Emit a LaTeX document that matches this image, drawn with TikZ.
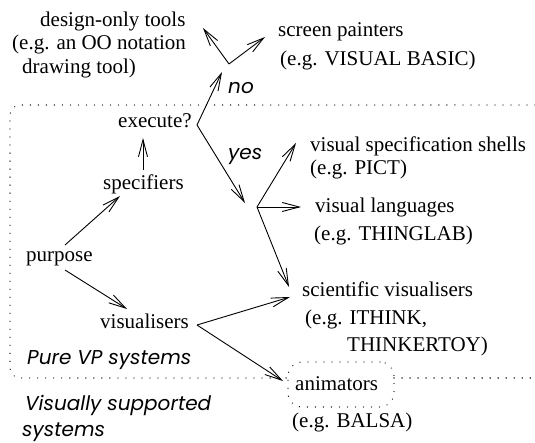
\documentclass[tikz,border=0pt]{standalone}
\usepackage{fontspec}
\setmainfont{Liberation Serif}
\newfontfamily\timesf{Liberation Serif}
\newfontfamily\gothic{Poppins}
\usetikzlibrary{arrows.meta}
\begin{document}
\begin{tikzpicture}[x=1pt,y=-1pt,
 lbl/.style={anchor=base west, inner sep=0pt, font=\timesf\fontsize{21}{25}\selectfont},
 ital/.style={anchor=base west, inner sep=0pt, font=\gothic\itshape\fontsize{20}{23}\selectfont},
 arr/.style={line width=0.9pt, -{Straight Barb[length=17pt,width=9pt]}},
 dotline/.style={line width=1.3pt, dash pattern=on 0.01pt off 8pt, line cap=round}]
\useasboundingbox (0,0) rectangle (535,443);
% text nodes
\node[lbl] (design) at (40,27) {design-only tools};
\node[lbl] (design2) at (12,50) {(e.g. an OO notation};
\node[lbl] (design3) at (22,74) {drawing tool)};
\node[lbl] (screen) at (278,37) {screen painters};
\node[lbl] (screen2) at (280,66) {(e.g. VISUAL BASIC)};
\node[lbl] (exec) at (118,128) {execute?};
\node[ital] (no) at (228,94) {no};
\node[ital] (yes) at (228,160) {yes};
\node[lbl] (spec) at (103,190) {specifiers};
\node[lbl] (purpose) at (26,262) {purpose};
\node[lbl] (vis) at (100,328) {visualisers};
\node[ital] (pure) at (27,364) {Pure VP systems};
\node[ital] (vsup) at (25,410) {Visually supported};
\node[ital] (vsup2) at (22,436) {systems};
\node[lbl] (vss) at (310,152) {visual specification shells};
\node[lbl] (pict) at (310,175) {(e.g. PICT)};
\node[lbl] (vl) at (315,213) {visual languages};
\node[lbl] (thing) at (314,241) {(e.g. THINGLAB)};
\node[lbl] (sci) at (302,297) {scientific visualisers};
\node[lbl] (ithink) at (305,325) {(e.g. ITHINK,};
\node[lbl] (tkt) at (347,352) {THINKERTOY)};
\node[lbl] (anim) at (295,390) {animators};
\node[lbl] (balsa) at (292,427) {(e.g. BALSA)};
\node[draw, dotline, rounded corners=14pt, minimum width=106, minimum height=45] (animbox) at (341,384.5) {};
% coordinates
\coordinate (ex) at (197,125);
\coordinate (noTip) at (222,72);
\coordinate (nb) at (229,64);
\coordinate (designTip) at (203,28);
\coordinate (screenTip) at (265,37);
\coordinate (yesTip) at (245,203);
\coordinate (yb) at (257,207);
\coordinate (vssTip) at (296,143);
\coordinate (vlTip) at (301,207);
\coordinate (sciTipA) at (289,287);
\coordinate (specBot) at (143,170);
\coordinate (specTop) at (143,138);
\coordinate (pUp) at (65,245);
\coordinate (specTip) at (120,196);
\coordinate (pDn) at (65,270);
\coordinate (visTip) at (127,309);
\coordinate (vb) at (197,325);
\coordinate (sciTipB) at (290,297);
\coordinate (animTip) at (283,381);
\coordinate (bl) at (288,378);
\coordinate (br) at (394,378);
% connectors
\draw[arr] (ex) -- (noTip);
\draw[arr] (ex) -- (yesTip);
\draw[arr] (nb) -- (designTip);
\draw[arr] (nb) -- (screenTip);
\draw[arr] (yb) -- (vssTip);
\draw[arr] (yb) -- (vlTip);
\draw[arr] (yb) -- (sciTipA);
\draw[arr] (specBot) -- (specTop);
\draw[arr] (pUp) -- (specTip);
\draw[arr] (pDn) -- (visTip);
\draw[arr] (vb) -- (sciTipB);
\draw[arr] (vb) -- (animTip);
% boundary
\draw[dotline, rounded corners=10pt] (535,105) -- (10,105) -- (10,378) -- (bl);
\draw[dotline] (br) -- (535,378);
\end{tikzpicture}
\end{document}
